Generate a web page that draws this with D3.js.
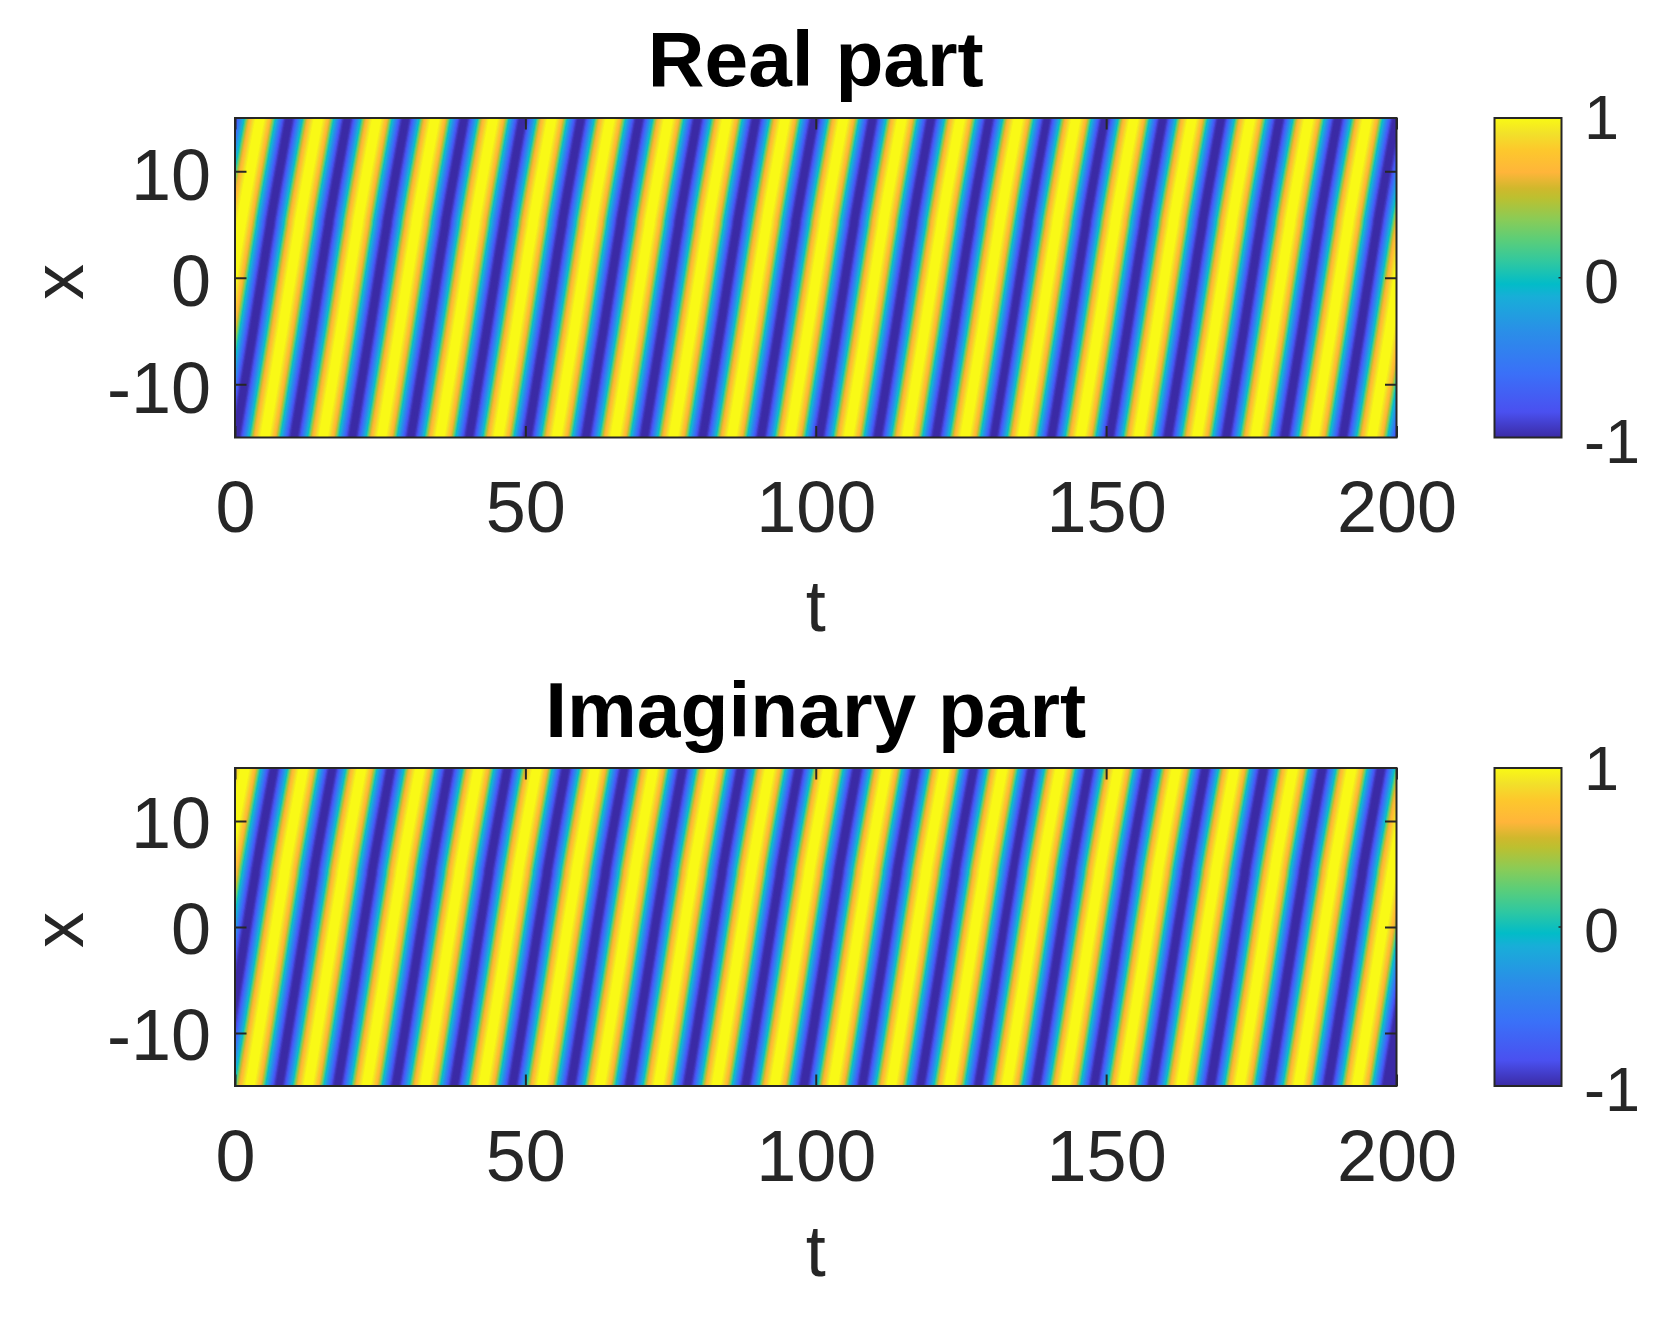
<!DOCTYPE html>
<html><head><meta charset="utf-8">
<script src="https://cdn.jsdelivr.net/npm/d3@7"></script>
<style>
html,body{margin:0;padding:0;background:#fff}
svg{display:block}
text{font-family:"Liberation Sans",Arial,sans-serif;fill:#262626}
</style></head><body><svg id="c" width="1672" height="1325"></svg>
<script>
// ---- values ----
const tTicks = [0,50,100,150,200];
const xTicks = [-10,0,10];
const barTicks = [-1,0,1];
const tDomain = [0,200];
const xDomain = [-15,15];
const barDomain = [-1,1];
const titles = ["Real part","Imaginary part"];
// t of each yellow crest where it meets the top edge (x = 15)
const realCrests = [4.3,14.35,24.4,34.45,44.5,54.55,64.6,74.65,84.7,94.75,104.8,114.85,124.9,134.9,144.8,154.8,164.8,174.85,184.9,194.95,205];
const imagCrests = [1.72,11.77,21.8,31.85,41.9,51.95,62,72.05,82.1,92.1,102.1,112.2,122.2,132.2,142.1,152.1,162.1,172.1,182.2,192.3,202.4];
// how far a crest has moved left by each x level
const driftX = [15,5,-5,-15];
const driftT = [0,3.25,6.2,9.18];
const period = [10];
// field value across a stripe, by fraction of a period away from the crest
const waveOffset = [.50,.46,.44,.42,.40,.38,.36,.34,.32,.30,.28,.26,.24,.22,.20,.18,.16,.14,.12,.10,.08];
const waveValue = [-1,-.99,-.95,-.88,-.78,-.66,-.52,-.38,-.25,-.13,-.02,.15,.33,.5,.62,.70,.76,.84,.90,.95,1];
// colour bar stops
const cmapValue = [-1,-.84,-.6,-.34,-.12,-.04,.1,.24,.36,.5,.56,.66,.8,.9,1];
const cmapColor = ["#3b2ba5","#4a50f0","#3a70f8","#2a8ee8","#18aed8","#02bcc8","#30c8a0","#5cce78","#88cc58","#bcc030","#d0b82c","#ffb53a","#fdc82c","#f2e02a","#f9f914"];

const svg = d3.select("#c");
const color = d3.scaleLinear().domain(cmapValue).range(cmapColor);
const defs = svg.append("defs");
defs.append("filter").attr("id","soft").attr("x","-2%").attr("y","-2%").attr("width","104%").attr("height","104%")
  .append("feGaussianBlur").attr("stdDeviation",0.7);

const layout = [
 {top:118,bottom:437.5,title:86,tb:532,lb:630.5,xl:282,yl:5,barB:[463,303,139],crests:realCrests},
 {top:768,bottom:1086,title:737,tb:1181,lb:1275.5,xl:930,yl:3,barB:[1111,952,790],crests:imagCrests}
];
const left=235,right=1396.5,barL=1494.5,barR=1561.5;

layout.forEach((p,i)=>{
  const xs=d3.scaleLinear().domain(tDomain).range([left,right]);
  const ys=d3.scaleLinear().domain(xDomain).range([p.bottom,p.top]);
  const by=d3.scaleLinear().domain(barDomain).range([p.bottom,p.top]);
  defs.append("clipPath").attr("id","clip"+i).append("rect")
    .attr("x",left).attr("y",p.top).attr("width",right-left).attr("height",p.bottom-p.top);
  const field=svg.append("g").attr("clip-path",`url(#clip${i})`).append("g").attr("filter","url(#soft)");
  field.append("rect").attr("x",left-4).attr("y",p.top-4).attr("width",right-left+8).attr("height",p.bottom-p.top+8).attr("fill",color(-1));
  const levels=driftX.map((x,k)=>({x,d:driftT[k]}));
  waveOffset.forEach((f,k)=>{
    const w=f*period[0];
    const area=c=>d3.area().curve(d3.curveCatmullRom).y(q=>ys(q.x)).x0(q=>xs(c-q.d-w)).x1(q=>xs(c-q.d+w))(levels);
    field.append("g").attr("fill",color(waveValue[k])).selectAll("path").data(p.crests).join("path").attr("d",area);
  });
  // frame and axes
  const style=g=>{g.select(".domain").remove();g.selectAll("line").attr("stroke","#262626").attr("stroke-width",2);g.selectAll("text").style("font-size","72px").attr("fill","#262626");};
  svg.append("g").attr("transform",`translate(0,${p.bottom})`).call(d3.axisBottom(xs).tickValues(tTicks).tickSizeInner(-11.5).tickSizeOuter(0).tickPadding(p.tb-p.bottom-51).tickFormat(String)).call(style);
  svg.append("g").attr("transform",`translate(0,${p.top})`).call(d3.axisTop(xs).tickValues(tTicks).tickSizeInner(-11.5).tickSizeOuter(0).tickFormat("")).call(style);
  svg.append("g").attr("transform",`translate(${left},0)`).call(d3.axisLeft(ys).tickValues(xTicks).tickSizeInner(-11.5).tickSizeOuter(0).tickPadding(24).tickFormat(String)).call(style).call(g=>g.selectAll("text").attr("y",p.yl));
  svg.append("g").attr("transform",`translate(${right},0)`).call(d3.axisRight(ys).tickValues(xTicks).tickSizeInner(-11.5).tickSizeOuter(0).tickFormat("")).call(style);
  svg.append("rect").attr("x",left).attr("y",p.top).attr("width",right-left).attr("height",p.bottom-p.top).attr("fill","none").attr("stroke","#262626").attr("stroke-width",2);
  svg.append("text").attr("x",(left+right)/2).attr("y",p.title).attr("text-anchor","middle").style("font-size","78.5px").style("font-weight","bold").style("fill","#000").text(titles[i]);
  svg.append("text").attr("x",(left+right)/2).attr("y",p.lb).attr("text-anchor","middle").style("font-size","72px").text("t");
  svg.append("text").attr("transform",`translate(83,${p.xl}) rotate(-90)`).attr("text-anchor","middle").style("font-size","72px").text("x");
  // colour bar
  const gid="bar"+i;
  const grad=defs.append("linearGradient").attr("id",gid).attr("x1",0).attr("x2",0).attr("y1",1).attr("y2",0);
  cmapValue.forEach((v,k)=>grad.append("stop").attr("offset",(v-barDomain[0])/(barDomain[1]-barDomain[0])).attr("stop-color",cmapColor[k]));
  svg.append("rect").attr("x",barL).attr("y",p.top).attr("width",barR-barL).attr("height",p.bottom-p.top).attr("fill",`url(#${gid})`).attr("stroke","#262626").attr("stroke-width",2);
  svg.append("line").attr("x1",barR-3).attr("x2",barR).attr("y1",by(0)).attr("y2",by(0)).attr("stroke","#262626").attr("stroke-width",1.5);
  svg.append("g").selectAll("text").data(barTicks).join("text").attr("x",1584).attr("y",(d,k)=>p.barB[k]).style("font-size","63px").text(String);
});
</script></body></html>
